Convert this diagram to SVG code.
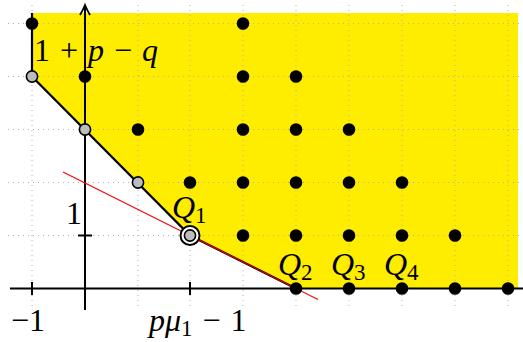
<svg xmlns="http://www.w3.org/2000/svg" width="523" height="342" viewBox="0 0 523 342">
<defs>
<style>
.grid{stroke:#b0b0b0;stroke-width:1;stroke-dasharray:1 4;fill:none}
.axis{stroke:#000;stroke-width:2;fill:none}
.dot{fill:#000}
.gdot{fill:#bdbdbd;stroke:#000;stroke-width:1.6}
.t{font-family:"Liberation Serif","DejaVu Serif",serif;font-size:32px;fill:#000}
.i{font-style:italic}
.s{font-family:"Liberation Serif","DejaVu Serif",serif;font-size:23px;fill:#000}
</style>
<marker id="arr" markerWidth="14" markerHeight="12" refX="11" refY="6" orient="auto" markerUnits="userSpaceOnUse">
<path d="M1,1 Q6,4 11,6 Q6,8 1,11" fill="none" stroke="#000" stroke-width="1.8"/>
</marker>
</defs>
<rect width="523" height="342" fill="#fff"/>
<g id="region">
<polygon points="32,13 518,13 518,288.5 296,288.5 190,235.5 32,76.5" fill="#ffed00"/>
</g>
<g id="grid" class="grid">
<path d="M32,5V310M85,5V310M138,5V310M190,5V310M243,5V310M296,5V310M349,5V310M402,5V310M455,5V310M508,5V310"/>
<path d="M8,23.5H520M8,76.5H520M8,129.5H520M8,182.5H520M8,235.5H520"/>
</g>
<g id="connectors">
<path class="axis" d="M10,288.5H523"/>
<path class="axis" d="M85,310V5" marker-end="url(#arr)"/>
<path class="axis" d="M32,282V295M190,282V295M78,235.5H92"/>
<polyline points="32,13 32,76.5 190,235.5 296,288.5" fill="none" stroke="#000" stroke-width="2.2"/>
<line x1="63" y1="172" x2="318" y2="299.5" stroke="#ff0000" stroke-width="1.1"/>
</g>
<g id="points">
<circle class="dot" cx="32" cy="23.5" r="6.3"/>
<circle class="dot" cx="85" cy="76.5" r="6.3"/>
<circle class="dot" cx="138" cy="129.5" r="6.3"/>
<circle class="dot" cx="190" cy="182.5" r="6.3"/>
<circle class="dot" cx="243" cy="23.5" r="6.3"/>
<circle class="dot" cx="243" cy="76.5" r="6.3"/>
<circle class="dot" cx="243" cy="129.5" r="6.3"/>
<circle class="dot" cx="243" cy="182.5" r="6.3"/>
<circle class="dot" cx="243" cy="235.5" r="6.3"/>
<circle class="dot" cx="296" cy="76.5" r="6.3"/>
<circle class="dot" cx="296" cy="129.5" r="6.3"/>
<circle class="dot" cx="296" cy="182.5" r="6.3"/>
<circle class="dot" cx="296" cy="235.5" r="6.3"/>
<circle class="dot" cx="296" cy="288.5" r="6.3"/>
<circle class="dot" cx="349" cy="129.5" r="6.3"/>
<circle class="dot" cx="349" cy="182.5" r="6.3"/>
<circle class="dot" cx="349" cy="235.5" r="6.3"/>
<circle class="dot" cx="349" cy="288.5" r="6.3"/>
<circle class="dot" cx="402" cy="182.5" r="6.3"/>
<circle class="dot" cx="402" cy="235.5" r="6.3"/>
<circle class="dot" cx="402" cy="288.5" r="6.3"/>
<circle class="dot" cx="455" cy="235.5" r="6.3"/>
<circle class="dot" cx="455" cy="288.5" r="6.3"/>
<circle class="dot" cx="508" cy="288.5" r="6.3"/>
<circle class="gdot" cx="32" cy="76.5" r="5.6"/>
<circle class="gdot" cx="85" cy="129.5" r="5.6"/>
<circle class="gdot" cx="138" cy="182.5" r="5.6"/>
<circle cx="190" cy="235.5" r="9.5" fill="#fff" stroke="#000" stroke-width="2"/>
<circle class="gdot" cx="190" cy="235.5" r="5.6"/>
</g>
<g id="labels">
<text class="t" x="34" y="61" word-spacing="2">1 + <tspan class="i">p</tspan> − <tspan class="i">q</tspan></text>
<text class="t" x="66" y="224">1</text>
<text class="t" x="11" y="331">−1</text>
<text class="t" x="149" y="331"><tspan class="i">pμ</tspan><tspan class="s" dy="5">1</tspan><tspan dy="-5" word-spacing="2"> − 1</tspan></text>
<text class="t i" x="172" y="218">Q<tspan class="s" dy="5" font-style="normal">1</tspan></text>
<text class="t i" x="278" y="275">Q<tspan class="s" dy="5" font-style="normal">2</tspan></text>
<text class="t i" x="331" y="275">Q<tspan class="s" dy="5" font-style="normal">3</tspan></text>
<text class="t i" x="384" y="275">Q<tspan class="s" dy="5" font-style="normal">4</tspan></text>
</g>
</svg>
